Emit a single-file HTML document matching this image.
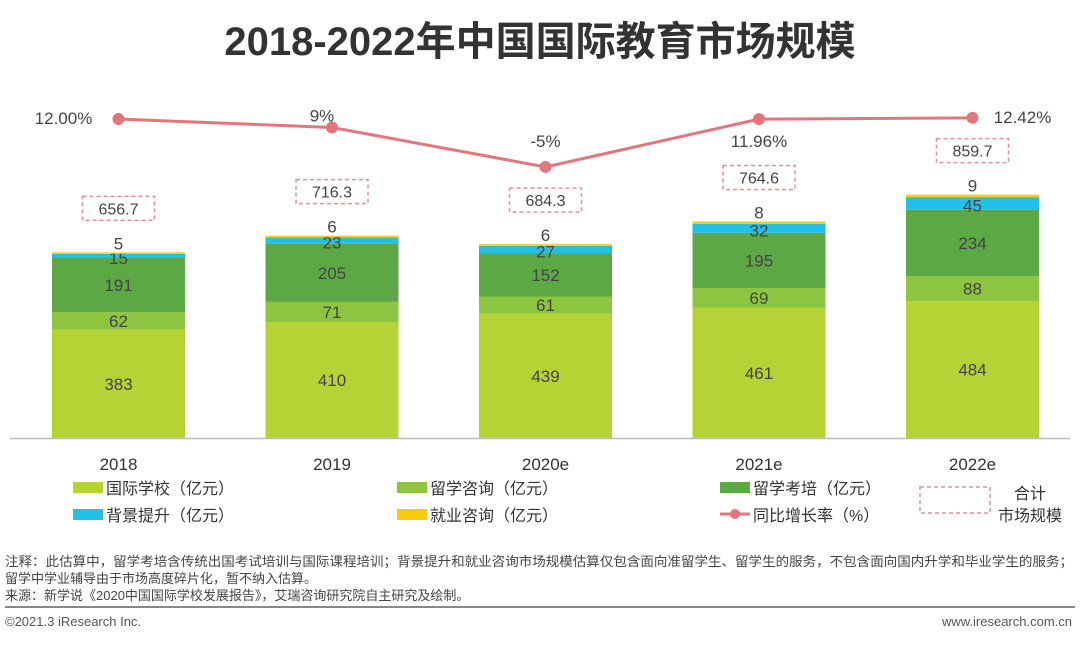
<!DOCTYPE html>
<html><head><meta charset="utf-8"><style>
body{margin:0;background:#fff;width:1080px;height:642px;overflow:hidden;font-family:"Liberation Sans","Noto Sans CJK SC",sans-serif;}
</style></head><body>
<svg width="1080" height="642" xmlns="http://www.w3.org/2000/svg" font-family="Liberation Sans, Noto Sans CJK SC, sans-serif">
<text x="540" y="55" text-anchor="middle" font-size="40" font-weight="bold" fill="#333">2018-2022年中国国际教育市场规模</text>
<g id="plot"></g>
<line x1="10" y1="438.5" x2="1070" y2="438.5" stroke="#bbb" stroke-width="1.5"/>
<g font-size="16" fill="#333">
<g><rect x="73" y="482" width="30" height="11" fill="#b5d334"/><text x="106" y="494">国际学校（亿元）</text></g>
<g><rect x="397" y="482" width="30" height="11" fill="#8dc440"/><text x="430" y="494">留学咨询（亿元）</text></g>
<g><rect x="720" y="482" width="30" height="11" fill="#5ba845"/><text x="753" y="494">留学考培（亿元）</text></g>
<g><rect x="73" y="509" width="30" height="11" fill="#22bfe6"/><text x="106" y="521">背景提升（亿元）</text></g>
<g><rect x="397" y="509" width="30" height="11" fill="#f7cb0a"/><text x="430" y="521">就业咨询（亿元）</text></g>
<g><line x1="720" y1="514" x2="750" y2="514" stroke="#e4757d" stroke-width="3"/><circle cx="735" cy="514" r="5" fill="#e4757d"/><text x="753" y="521">同比增长率（%）</text></g>
<g><rect x="920" y="487" width="70" height="26" fill="none" stroke="#e0909a" stroke-width="1.5" stroke-dasharray="4,3"/><text x="1030" y="499" text-anchor="middle">合计</text><text x="1030" y="521" text-anchor="middle">市场规模</text></g>
</g>
<g font-size="13" fill="#444">
<text x="5" y="566" textLength="1068" lengthAdjust="spacingAndGlyphs">注释：此估算中，留学考培含传统出国考试培训与国际课程培训；背景提升和就业咨询市场规模估算仅包含面向准留学生、留学生的服务，不包含面向国内升学和毕业学生的服务；</text>
<text x="5" y="583">留学中学业辅导由于市场高度碎片化，暂不纳入估算。</text>
<text x="5" y="600">来源：新学说《2020中国国际学校发展报告》，艾瑞咨询研究院自主研究及绘制。</text>
</g>
<line x1="5" y1="607" x2="1075" y2="607" stroke="#888" stroke-width="2"/>
<text x="5" y="626" font-size="13" fill="#555">©2021.3 iResearch Inc.</text>
<text x="1072" y="626" font-size="13" fill="#555" text-anchor="end">www.iresearch.com.cn</text>
</svg>
<script>
const categories=["2018","2019","2020e","2021e","2022e"];
const school=[383,410,439,461,484];
const consult=[62,71,61,69,88];
const exam=[191,205,152,195,234];
const background=[15,23,27,32,45];
const employment=[5,6,6,8,9];
const totals=["656.7","716.3","684.3","764.6","859.7"];
const growth=[12.00,9,-5,11.96,12.42];
const growthLabels=["12.00%","9%","-5%","11.96%","12.42%"];
const NS="http://www.w3.org/2000/svg";
const g=document.getElementById("plot");
const base=438, k=0.283;
const y=v=>base-v*k;
const xC=i=>118.5+i*213.5;
const bw=133;
const yL=p=>119+(12-p)*2.82;
function mk(t,a,p){const e=document.createElementNS(NS,t);for(const n in a)e.setAttribute(n,a[n]);(p||g).appendChild(e);return e;}
const series=[school,consult,exam,background,employment];
const colors=["#b5d334","#8dc440","#5ba845","#22bfe6","#f7cb0a"];
const snames=["school","consult","exam","background","employment"];
categories.forEach((c,i)=>{
  let cum=0;
  series.forEach((s,j)=>{
    const y0=y(cum),y1=y(cum+s[i]);
    const r=mk("rect",{x:xC(i)-bw/2,y:y1,width:bw,height:y0-y1,fill:colors[j]});
    
    
    let ly=(y0+y1)/2+6;
    if(j===3) ly=(y0+y1)/2+8;
    if(j===4) ly=y1-3;
    const t=mk("text",{x:xC(i),y:ly,"text-anchor":"middle","font-size":17,fill:"#444"});
    t.textContent=s[i];
    
    
    cum+=s[i];
  });
  const top=y(cum);
  const bx=mk("rect",{x:xC(i)-36,y:top-56,width:72,height:24,fill:"none",stroke:"#e0909a","stroke-width":1.5,"stroke-dasharray":"4,3"});
  
  
  const tt=mk("text",{x:xC(i),y:top-38,"text-anchor":"middle","font-size":16,fill:"#444"});
  tt.textContent=totals[i];
  
  
  const xl=mk("text",{x:xC(i),y:470,"text-anchor":"middle","font-size":17,fill:"#333"});
  xl.textContent=c;
  
  
});
const pl=mk("polyline",{points:growth.map((p,i)=>xC(i)+","+yL(p)).join(" "),fill:"none",stroke:"#e4757d","stroke-width":3});


const offs=[[-55,5],[-10,-6],[0,-20],[0,28],[50,5]];
growth.forEach((p,i)=>{
  const c=mk("circle",{cx:xC(i),cy:yL(p),r:6,fill:"#e4757d"});
  
  
  const t=mk("text",{x:xC(i)+offs[i][0],y:yL(p)+offs[i][1],"text-anchor":"middle","font-size":17,fill:"#444"});
  t.textContent=growthLabels[i];
  
  
});
</script>
</body></html>
